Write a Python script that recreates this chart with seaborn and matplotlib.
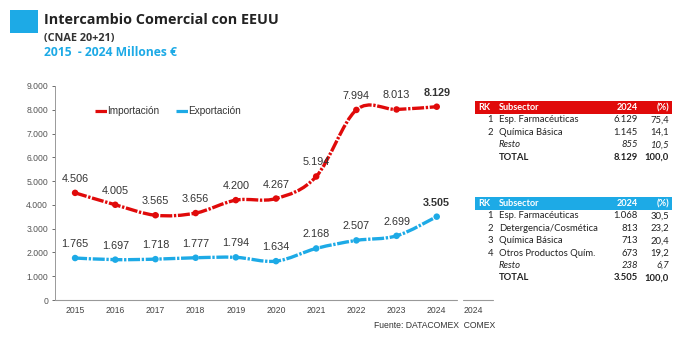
import numpy as np
import pandas as pd
import seaborn as sns
import matplotlib.pyplot as plt
from matplotlib.path import Path
from matplotlib.patches import PathPatch, Rectangle
from matplotlib.lines import Line2D
from matplotlib.ticker import FuncFormatter

# ---- data -------------------------------------------------------------
years = ["2015", "2016", "2017", "2018", "2019", "2020", "2021", "2022", "2023", "2024"]
importacion = [4506, 4005, 3565, 3656, 4200, 4267, 5194, 7994, 8013, 8129]
exportacion = [1765, 1697, 1718, 1777, 1794, 1634, 2168, 2507, 2699, 3505]

imp_rk = ["1", "2", "", ""]
imp_sub = ["Esp. Farmacéuticas", "Química Básica", "Resto", "TOTAL"]
imp_val = ["6.129", "1.145", "855", "8.129"]
imp_pct = ["75,4", "14,1", "10,5", "100,0"]

exp_rk = ["1", "2", "3", "4", "", ""]
exp_sub = ["Esp. Farmacéuticas", "Detergencia/Cosmética", "Química Básica",
           "Otros Productos Quím.", "Resto", "TOTAL"]
exp_val = ["1.068", "813", "713", "673", "238", "3.505"]
exp_pct = ["30,5", "23,2", "20,4", "19,2", "6,7", "100,0"]

RED = "#E00A0A"
BLUE = "#1DAAE6"
TXT = "#333333"

sns.set_theme(style="white")
plt.rcParams["font.family"] = ["Liberation Sans", "DejaVu Sans"]

W, H = 690, 338
fig = plt.figure(figsize=(W / 100, H / 100), dpi=100)
fig.patch.set_facecolor("white")


def fx(px):
    return px / W


def fy(py):
    return 1 - py / H


ax = fig.add_axes([fx(55), fy(300), fx(442), (300 - 86) / H])

df = pd.DataFrame({"x": np.arange(len(years)), "imp": importacion, "exp": exportacion})


def smooth_path(xs, ys):
    # Catmull-Rom style cubic Bezier through every data point
    pts = np.column_stack([xs, ys]).astype(float)
    n = len(pts)
    verts = [pts[0]]
    codes = [Path.MOVETO]
    for i in range(n - 1):
        p0 = pts[i - 1] if i > 0 else pts[i]
        p1, p2 = pts[i], pts[i + 1]
        p3 = pts[i + 2] if i + 2 < n else pts[i + 1]
        c1 = p1 + (p2 - p0) / 6.0
        c2 = p2 - (p3 - p1) / 6.0
        verts += [c1, c2, p2]
        codes += [Path.CURVE4] * 3
    return Path(verts, codes)


DASH = (3.6, 0.5, 0.7, 0.5)
for col, color in (("imp", RED), ("exp", BLUE)):
    patch = PathPatch(smooth_path(df["x"], df[col]), facecolor="none",
                      edgecolor=color, lw=2.4, capstyle="butt", zorder=3)
    patch.set_linestyle((0, DASH))
    ax.add_patch(patch)
    sns.scatterplot(data=df, x="x", y=col, ax=ax, color=color, s=22,
                    edgecolor="none", zorder=4, legend=False)

# value labels
for i, (vi, ve) in enumerate(zip(importacion, exportacion)):
    w = "bold" if i == len(years) - 1 else "normal"
    ax.annotate(f"{vi:,}".replace(",", "."), (i, vi), xytext=(0, 6.5),
                textcoords="offset points", ha="center", va="bottom",
                fontsize=7.8, color=TXT, fontweight=w, zorder=5)
    ax.annotate(f"{ve:,}".replace(",", "."), (i, ve), xytext=(0, 6.5),
                textcoords="offset points", ha="center", va="bottom",
                fontsize=7.8, color=TXT, fontweight=w, zorder=5)

ax.set_xlim(-0.5, 10.5)
ax.set_ylim(0, 9000)
ax.set_yticks(range(0, 9001, 1000))
ax.yaxis.set_major_formatter(FuncFormatter(lambda v, p: f"{int(v):,}".replace(",", ".")))
ax.set_xticks(list(range(len(years))) + [9.9])
ax.set_xticklabels(years + ["2024"])
ax.tick_params(axis="y", labelsize=6.2, colors="#555555", length=2.5, width=0.6,
               direction="out", left=True, pad=2.5)
ax.tick_params(axis="x", labelsize=6.2, colors="#444444", length=0, pad=4)
ax.set_xlabel("")
ax.set_ylabel("")
for s in ("top", "right", "bottom"):
    ax.spines[s].set_visible(False)
ax.spines["left"].set_color("#999999")
ax.spines["left"].set_linewidth(0.7)
ax.set_facecolor("none")
for x0, x1 in ((-0.5, 9.5), (9.65, 10.4)):
    ax.plot([x0, x1], [0, 0], color="#999999", lw=0.8, clip_on=False, zorder=2)

handles = [Line2D([], [], color=RED, lw=2.3, linestyle=(0, DASH)),
           Line2D([], [], color=BLUE, lw=2.3, linestyle=(0, DASH))]
ax.legend(handles, ["Importación", "Exportación"], loc="center left",
          bbox_to_anchor=((95 - 55) / 442, (300 - 111) / 214), frameon=False,
          ncol=2, fontsize=7.2, handlelength=1.2, handletextpad=0.05,
          columnspacing=1.6, labelcolor=TXT, borderaxespad=0, borderpad=0)

# ---- title block --------------------------------------------------------
fig.patches.append(Rectangle((fx(10), fy(33)), fx(28), 23 / H, transform=fig.transFigure,
                             facecolor=BLUE, edgecolor="none"))
fig.text(fx(44), fy(20), "Intercambio Comercial con EEUU", fontsize=10.4, fontweight="bold",
         color="#222222", va="center", ha="left", family=["Open Sans", "DejaVu Sans"])
fig.text(fx(44), fy(38), "(CNAE 20+21)", fontsize=7.8, fontweight="bold",
         color="#333333", va="center", ha="left", family=["Open Sans", "DejaVu Sans"])
fig.text(fx(44), fy(53), "2015  - 2024 Millones €", fontsize=8.7, fontweight="bold",
         color=BLUE, va="center", ha="left", family=["Open Sans", "DejaVu Sans"])

fig.text(fx(495), fy(326), "Fuente: DATACOMEX  COMEX", fontsize=6.2, color=TXT,
         ha="right", va="center")

# ---- tables -------------------------------------------------------------
TF = ["Lato", "DejaVu Sans"]


def draw_table(top, color, rk, sub, val, pct, step):
    fig.patches.append(Rectangle((fx(475), fy(top + 12.5)), fx(197), 12.5 / H,
                                 transform=fig.transFigure, facecolor=color,
                                 edgecolor="none"))
    hy = top + 6.5
    kw = dict(fontsize=6.6, color="white", fontweight="bold", va="center", family=TF)
    fig.text(fx(478), fy(hy), "RK", ha="left", **kw)
    fig.text(fx(499), fy(hy), "Subsector", ha="left", **kw)
    fig.text(fx(638), fy(hy), "2024", ha="right", **kw)
    fig.text(fx(669), fy(hy), "(%)", ha="right", **kw)
    n = len(sub)
    for i in range(n):
        y = fy(hy + step * (i + 1))
        style = "normal"
        weight = "normal"
        if sub[i] == "Resto":
            style = "italic"
        if sub[i] == "TOTAL":
            weight = "bold"
        rkw = dict(fontsize=6.8, color="#222222", va="center", family=TF,
                   fontstyle=style, fontweight=weight)
        if rk[i]:
            fig.text(fx(493), y, rk[i], ha="right", **rkw)
        fig.text(fx(499), y, sub[i], ha="left", **rkw)
        fig.text(fx(638), y, val[i], ha="right", **rkw)
        fig.text(fx(669), y, pct[i], ha="right", **rkw)


draw_table(101, RED, imp_rk, imp_sub, imp_val, imp_pct, 12.4)
draw_table(197, BLUE, exp_rk, exp_sub, exp_val, exp_pct, 12.4)

fig.savefig("out.png", dpi=100, facecolor="white")
